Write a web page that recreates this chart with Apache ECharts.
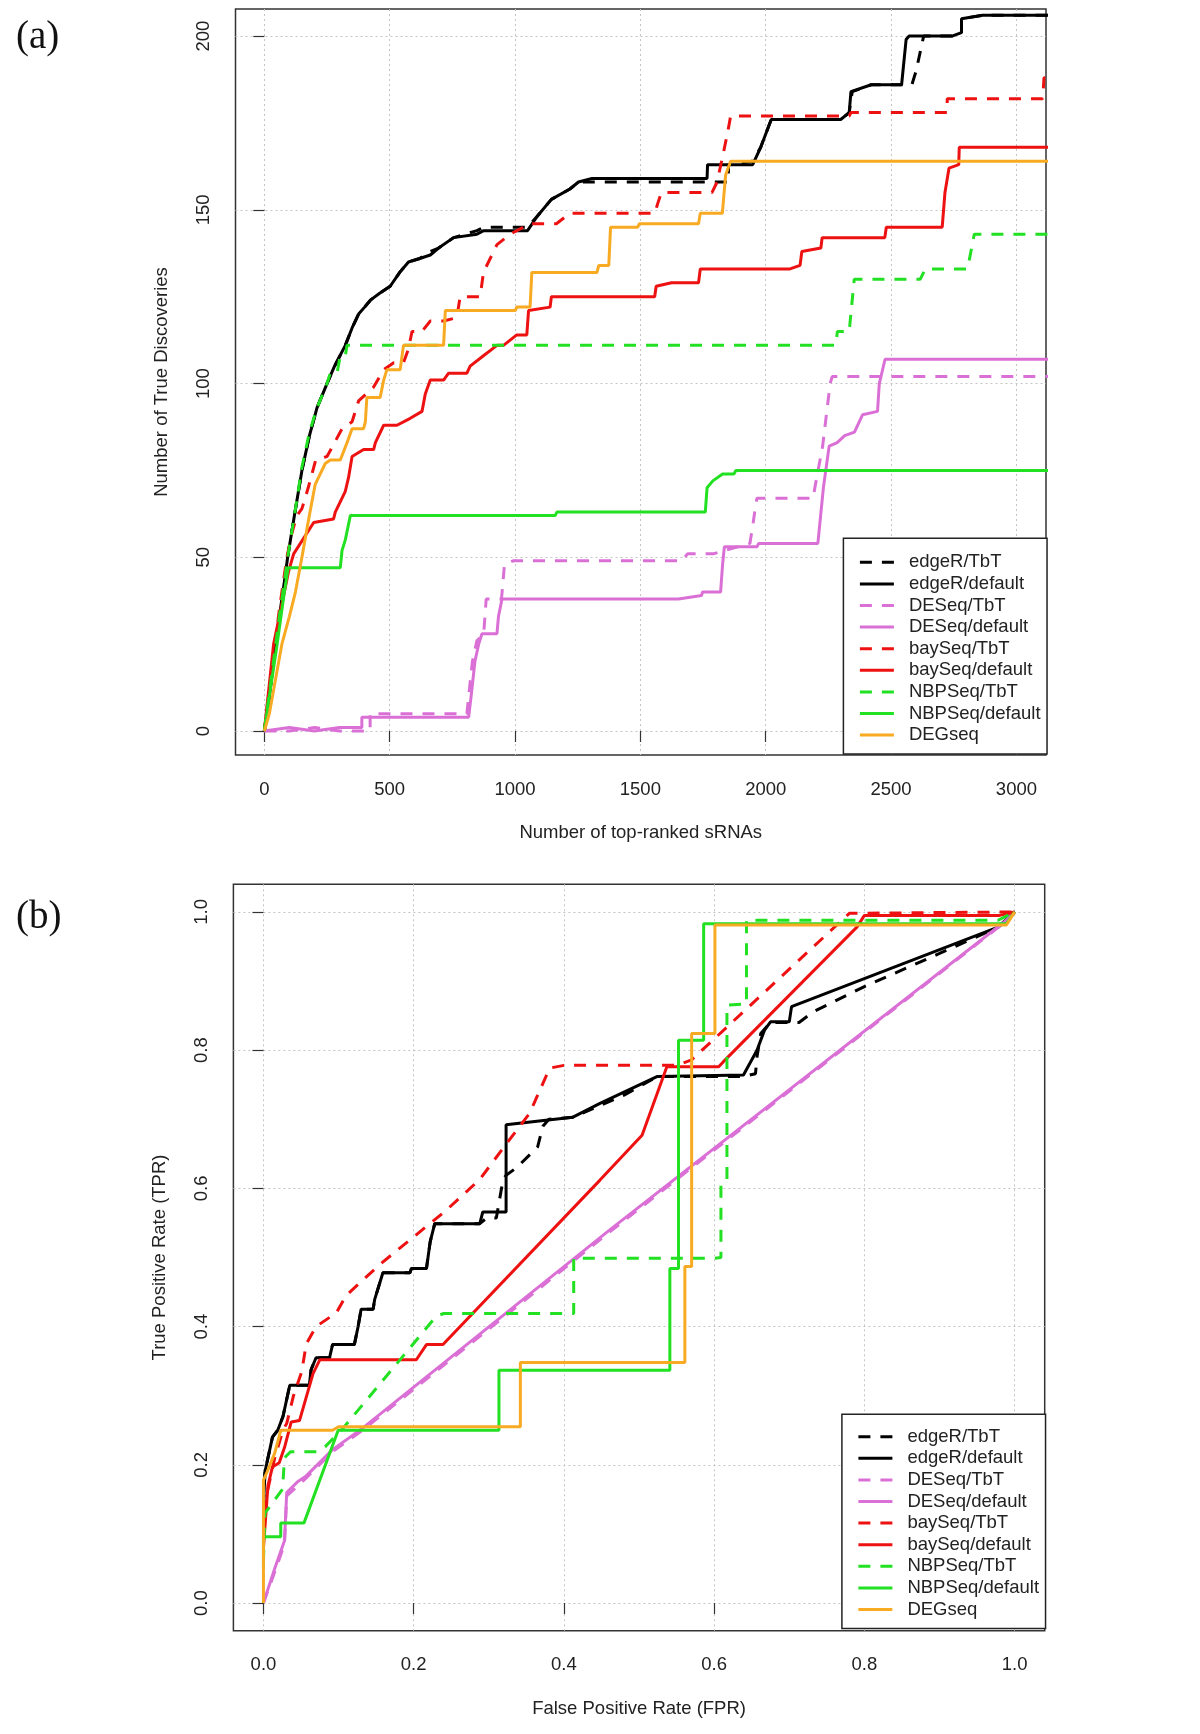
<!DOCTYPE html>
<html>
<head>
<meta charset="utf-8">
<script src="https://cdn.jsdelivr.net/npm/echarts@6/dist/echarts.min.js"></script>
<style>
  html, body { margin: 0; padding: 0; background: #fff; }
  #chart { width: 1200px; height: 1734px; }
</style>
</head>
<body>
<div id="chart"></div>
<script>
// ---------- tick values ----------
const aXTicks = [0, 500, 1000, 1500, 2000, 2500, 3000];
const aYTicks = [0, 50, 100, 150, 200];
const bTicks = [0, 0.2, 0.4, 0.6, 0.8, 1.0];

// ---------- legend / series names ----------
const seriesNames = ['edgeR/TbT', 'edgeR/default', 'DESeq/TbT', 'DESeq/default',
  'baySeq/TbT', 'baySeq/default', 'NBPSeq/TbT', 'NBPSeq/default', 'DEGseq'];

// ---------- panel (a): number of true discoveries vs top-ranked sRNAs ----------
const a_edgeR_TbT = [[0,0],[20,10],[40,22],[60,33],[80,43],[93,50],[120,62],[150,75],[180,85],[210,93],[250,100],[280,105],[323,111],[350,116],[376,120],[400,122],[423,124],[460,126],[502,128],[540,132],[575,135],[620,136],[662,138],[695,139],[755,142],[848,144],[875,145],[1050,145],[1087,148],[1145,153],[1219,156],[1253,158],[1307,158],[1850,158],[1852,163],[1948,164],[1980,168],[2022,176],[2299,176],[2333,178],[2345,184],[2421,186],[2583,186],[2600,190],[2630,200],[2743,200],[2781,201],[2781,205],[2865,206],[3150,206]];
const a_edgeR_default = [[0,0],[20,10],[40,22],[60,33],[80,43],[93,50],[120,62],[150,75],[180,85],[210,93],[250,100],[280,105],[323,111],[350,116],[376,120],[400,122],[423,124],[460,126],[502,128],[540,132],[575,135],[620,136],[662,137],[695,139],[755,142],[848,143],[875,144],[1050,144],[1087,148],[1145,153],[1219,156],[1253,158],[1307,159],[1766,159],[1768,163],[1948,163],[1980,168],[2022,176],[2299,176],[2333,178],[2340,184],[2421,186],[2542,186],[2560,199],[2572,200],[2743,200],[2781,201],[2781,205],[2865,206],[3150,206]];
const a_DESeq_TbT = [[0,0],[100,0],[200,1],[300,0],[422,0],[422,5],[808,5],[815,10],[830,20],[848,26],[875,28],[885,38],[946,38],[958,48],[994,49],[1666,49],[1688,51],[1790,51],[1937,54],[1950,60],[1960,65],[1965,67],[2189,67],[2196,70],[2227,82],[2257,100],[2265,102],[3150,102]];
const a_DESeq_default = [[0,0],[100,1],[200,0],[300,1],[389,1],[389,4],[815,4],[828,12],[840,20],[855,25],[868,28],[928,28],[934,33],[948,38],[1652,38],[1744,39],[1748,40],[1820,40],[1828,48],[1835,53],[1965,53],[1972,54],[2208,54],[2230,70],[2253,82],[2285,83],[2315,85],[2354,86],[2386,91],[2446,92],[2453,100],[2476,107],[3150,107]];
const a_baySeq_TbT = [[0,0],[30,18],[60,35],[90,50],[110,57],[130,62],[150,64],[175,70],[205,78],[250,79],[280,83],[310,87],[350,89],[376,95],[436,99],[476,104],[516,106],[555,106],[575,110],[589,115],[629,115],[662,118],[715,118],[768,119],[781,125],[861,125],[874,132],[928,140],[981,143],[1060,146],[1165,146],[1219,149],[1557,149],[1570,152],[1584,155],[1786,155],[1806,158],[1830,166],[1850,173],[1860,177],[2333,177],[2340,178],[2724,178],[2724,182],[3105,182],[3110,188],[3150,188]];
const a_baySeq_default = [[0,0],[37,25],[97,46],[117,51],[197,60],[276,61],[283,63],[323,69],[336,73],[350,79],[396,81],[436,81],[443,83],[476,88],[529,88],[582,90],[629,92],[642,97],[662,101],[715,101],[735,103],[808,103],[821,105],[874,108],[928,111],[954,111],[1007,114],[1047,114],[1054,121],[1140,122],[1145,125],[1557,125],[1563,128],[1624,129],[1732,129],[1739,133],[2097,133],[2137,134],[2144,138],[2220,139],[2225,142],[2475,142],[2481,145],[2704,145],[2715,155],[2731,162],[2770,163],[2772,168],[3150,168]];
const a_NBPSeq_TbT = [[0,0],[20,11],[40,22],[60,33],[80,43],[93,50],[120,62],[150,76],[180,86],[210,93],[250,100],[263,103],[290,103],[303,108],[323,108],[330,111],[2279,111],[2286,115],[2333,115],[2353,130],[2616,130],[2637,133],[2805,133],[2832,143],[3150,143]];
const a_NBPSeq_default = [[0,0],[20,10],[51,25],[80,40],[95,47],[303,47],[310,52],[323,55],[343,62],[1160,62],[1167,63],[1759,63],[1766,70],[1789,72],[1828,74],[1873,74],[1881,75],[3150,75]];
const a_DEGseq = [[0,0],[20,5],[40,13],[70,25],[100,33],[124,40],[150,50],[177,61],[203,71],[243,77],[263,78],[303,78],[330,83],[350,87],[396,87],[403,89],[409,96],[462,96],[476,101],[489,104],[542,104],[555,111],[715,111],[722,121],[1001,121],[1007,122],[1060,122],[1067,132],[1327,132],[1334,134],[1374,134],[1381,145],[1489,145],[1496,146],[1732,146],[1739,149],[1827,149],[1840,160],[1860,164],[3150,164]];

// ---------- panel (b): ROC (TPR vs FPR) ----------
const b_edgeR_TbT = [[0,0.14],[0.002,0.19],[0.004,0.20],[0.012,0.24],[0.019,0.25],[0.026,0.27],[0.035,0.315],[0.061,0.315],[0.0635,0.338],[0.070,0.355],[0.088,0.355],[0.092,0.374],[0.121,0.374],[0.126,0.40],[0.130,0.425],[0.146,0.425],[0.148,0.439],[0.159,0.478],[0.195,0.478],[0.197,0.484],[0.217,0.484],[0.222,0.523],[0.228,0.549],[0.288,0.549],[0.297,0.557],[0.31,0.557],[0.319,0.613],[0.323,0.619],[0.337,0.63],[0.365,0.66],[0.372,0.69],[0.38,0.70],[0.412,0.703],[0.448,0.72],[0.48,0.735],[0.5245,0.762],[0.639,0.762],[0.655,0.766],[0.657,0.79],[0.662,0.824],[0.675,0.84],[0.713,0.84],[0.731,0.855],[0.80,0.892],[0.90,0.94],[0.978,0.978],[1.0,1.0]];
const b_edgeR_default = [[0,0.14],[0.002,0.19],[0.004,0.20],[0.012,0.24],[0.019,0.25],[0.026,0.27],[0.035,0.315],[0.061,0.315],[0.0635,0.338],[0.070,0.355],[0.088,0.355],[0.092,0.374],[0.121,0.374],[0.126,0.40],[0.130,0.425],[0.146,0.425],[0.148,0.439],[0.159,0.478],[0.195,0.478],[0.197,0.484],[0.217,0.484],[0.222,0.523],[0.228,0.549],[0.288,0.549],[0.292,0.566],[0.323,0.566],[0.323,0.692],[0.370,0.698],[0.412,0.703],[0.448,0.723],[0.5245,0.762],[0.639,0.764],[0.657,0.80],[0.667,0.829],[0.675,0.841],[0.70,0.841],[0.703,0.863],[0.978,0.978],[1.0,1.0]];
const b_DESeq_TbT = [[0,0],[0.015,0.045],[0.028,0.085],[0.031,0.155],[0.056,0.18],[0.092,0.219],[0.132,0.25],[0.461,0.537],[0.989,0.987],[1.0,1.0]];
const b_DESeq_default = [[0,0],[0.015,0.05],[0.028,0.09],[0.031,0.16],[0.045,0.175],[0.056,0.183],[0.092,0.222],[0.132,0.253],[0.461,0.54],[0.989,0.988],[1.0,1.0]];
const b_baySeq_TbT = [[0,0.10],[0.005,0.16],[0.015,0.21],[0.026,0.25],[0.031,0.26],[0.040,0.30],[0.051,0.335],[0.057,0.375],[0.070,0.40],[0.097,0.42],[0.110,0.445],[0.155,0.49],[0.199,0.529],[0.243,0.568],[0.288,0.613],[0.323,0.664],[0.3545,0.709],[0.381,0.774],[0.40,0.778],[0.55,0.778],[0.57,0.786],[0.78,0.998],[1.0,1.0]];
const b_baySeq_default = [[0,0.08],[0.006,0.17],[0.012,0.197],[0.021,0.203],[0.028,0.225],[0.037,0.262],[0.048,0.264],[0.066,0.332],[0.075,0.352],[0.2035,0.352],[0.217,0.374],[0.239,0.374],[0.448,0.612],[0.504,0.677],[0.537,0.776],[0.606,0.776],[0.612,0.783],[0.79,0.978],[0.80,0.995],[0.98,0.995],[1.0,1.0]];
const b_NBPSeq_TbT = [[0,0.06],[0.002,0.13],[0.0255,0.165],[0.028,0.21],[0.036,0.219],[0.071,0.219],[0.082,0.226],[0.106,0.253],[0.23,0.415],[0.24,0.419],[0.413,0.419],[0.413,0.499],[0.601,0.499],[0.609,0.50],[0.609,0.605],[0.617,0.61],[0.617,0.865],[0.643,0.867],[0.643,0.988],[0.978,0.988],[1.0,1.0]];
const b_NBPSeq_default = [[0,0.05],[0,0.096],[0.023,0.096],[0.023,0.116],[0.054,0.116],[0.0995,0.25],[0.3135,0.25],[0.3135,0.337],[0.541,0.337],[0.541,0.484],[0.5525,0.484],[0.5525,0.8145],[0.586,0.8145],[0.586,0.983],[0.989,0.983],[1.0,1.0]];
const b_DEGseq = [[0,0],[0,0.178],[0.005,0.19],[0.015,0.217],[0.023,0.25],[0.092,0.25],[0.10,0.255],[0.342,0.255],[0.342,0.348],[0.561,0.348],[0.561,0.487],[0.570,0.487],[0.570,0.824],[0.601,0.824],[0.601,0.981],[0.989,0.981],[1.0,1.0]];

const panelA = [a_edgeR_TbT, a_edgeR_default, a_DESeq_TbT, a_DESeq_default, a_baySeq_TbT, a_baySeq_default, a_NBPSeq_TbT, a_NBPSeq_default, a_DEGseq];
const panelB = [b_edgeR_TbT, b_edgeR_default, b_DESeq_TbT, b_DESeq_default, b_baySeq_TbT, b_baySeq_default, b_NBPSeq_TbT, b_NBPSeq_default, b_DEGseq];

// ---------- styling ----------
const colors = ['#000000', '#000000', '#da70d6', '#da70d6', '#ee1111', '#ee1111', '#22e022', '#22e022', '#f8aa22'];
const dashed = [true, false, true, false, true, false, true, false, false];
const FONT = '"Liberation Sans", Arial, sans-serif';
const TXT = '#222';
const FS = 18.5;

function makeSeries(datasets, idx) {
  return datasets.map((d, i) => ({
    name: seriesNames[i],
    type: 'line',
    xAxisIndex: idx,
    yAxisIndex: idx,
    data: d,
    symbol: 'none',
    showSymbol: false,
    clip: true,
    lineStyle: { width: 3, color: colors[i], type: dashed[i] ? [12, 10] : 'solid' },
    itemStyle: { color: colors[i] },
    emphasis: { disabled: true },
    z: 3
  }));
}

function axisCommon(ticks, fmt, labelMargin, nameGap) {
  return {
    type: 'value',
    axisLine: { show: false },
    axisTick: { show: true, inside: false, length: 11, customValues: ticks, lineStyle: { color: '#333', width: 1.2 } },
    axisLabel: { show: true, customValues: ticks, formatter: fmt, fontFamily: FONT, fontSize: FS, color: TXT, margin: labelMargin },
    splitLine: { show: true, lineStyle: { color: '#c4c4c4', width: 1, type: [2, 3] } },
    nameLocation: 'middle',
    nameGap: nameGap,
    nameTextStyle: { fontFamily: FONT, fontSize: FS, color: TXT }
  };
}

function legendFor(left, top, padTop) {
  return {
    data: seriesNames,
    orient: 'vertical',
    left: left,
    top: top,
    itemWidth: 34,
    itemHeight: 14,
    itemGap: 2.6,
    padding: [padTop, 6.5, 9.5, 15],
    backgroundColor: '#ffffff',
    borderColor: '#222',
    borderWidth: 1.5,
    borderRadius: 0,
    selectedMode: false,
    itemStyle: { opacity: 0 },
    lineStyle: { width: 3 },
    textStyle: { fontFamily: FONT, fontSize: FS, color: TXT, padding: [0, 0, 0, 10] },
    z: 10
  };
}

const fmtInt = v => String(Math.round(v));
const fmt1 = v => v.toFixed(1);

const chart = echarts.init(document.getElementById('chart'), null, { renderer: 'canvas' });
const option = {
  animation: false,
  backgroundColor: '#ffffff',
  grid: [
    { left: 235.5, top: 9, width: 810.5, height: 746, show: true, borderColor: '#333', borderWidth: 1.5, backgroundColor: 'transparent' },
    { left: 233.4, top: 884.3, width: 811.3, height: 746.4, show: true, borderColor: '#333', borderWidth: 1.5, backgroundColor: 'transparent' }
  ],
  xAxis: [
    Object.assign(axisCommon(aXTicks, fmtInt, 25, 68), { gridIndex: 0, min: -115, max: 3118, name: 'Number of top-ranked sRNAs' }),
    Object.assign(axisCommon(bTicks, fmt1, 25, 69), { gridIndex: 1, min: -0.04, max: 1.04, name: 'False Positive Rate (FPR)' })
  ],
  yAxis: [
    Object.assign(axisCommon(aYTicks, fmtInt, 22, 64), { gridIndex: 0, min: -6.9, max: 207.8, name: 'Number of True Discoveries' }),
    Object.assign(axisCommon(bTicks, fmt1, 22, 64), { gridIndex: 1, min: -0.04, max: 1.04, name: 'True Positive Rate (TPR)' })
  ],
  legend: [
    legendFor(843.4, 538.3, 14.5),
    legendFor(841.9, 1414.3, 12.9)
  ],
  graphic: [
    { type: 'text', left: 16, top: 18, style: { text: '(a)', font: '39px "Liberation Serif", "Times New Roman", serif', fill: '#111' } },
    { type: 'text', left: 16, top: 898, style: { text: '(b)', font: '39px "Liberation Serif", "Times New Roman", serif', fill: '#111' } }
  ],
  series: makeSeries(panelA, 0).concat(makeSeries(panelB, 1))
};
option.yAxis.forEach(a => { a.axisLabel.rotate = 90; });
chart.setOption(option);
</script>
</body>
</html>
